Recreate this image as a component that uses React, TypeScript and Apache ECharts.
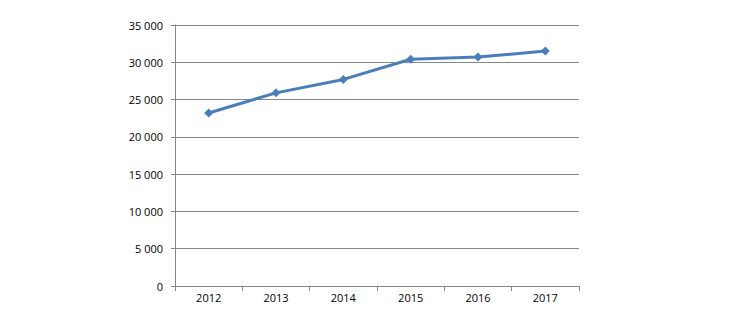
import React, { useEffect, useRef } from "react";
import * as echarts from "echarts";

const categories = ["2012", "2013", "2014", "2015", "2016", "2017"];
const values = [23200, 25900, 27700, 30400, 30700, 31500];

const fmt = (v: number) => {
  const s = String(Math.round(v));
  return s.replace(/\B(?=(\d{3})+(?!\d))/g, " ");
};

export default function App() {
  const ref = useRef<HTMLDivElement>(null);
  useEffect(() => {
    document.body.style.margin = "0";
    const chart = echarts.init(ref.current!, null, { renderer: "svg" });
    const font = "'Open Sans', 'DejaVu Sans', sans-serif";
    chart.setOption({
      animation: false,
      backgroundColor: "#ffffff",
      grid: { left: 175, right: 155, top: 25, bottom: 43, containLabel: false },
      xAxis: {
        type: "category",
        data: categories,
        boundaryGap: true,
        axisLine: { show: true, lineStyle: { color: "#868686", width: 1 } },
        axisTick: { show: true, length: 5, alignWithLabel: false, lineStyle: { color: "#868686" } },
        axisLabel: { color: "#000", fontSize: 11, fontFamily: font, margin: 6 },
        splitLine: { show: false },
      },
      yAxis: {
        type: "value",
        min: 0,
        max: 35000,
        interval: 5000,
        axisLine: { show: true, lineStyle: { color: "#868686", width: 1 } },
        axisTick: { show: true, length: 4, inside: false, lineStyle: { color: "#868686" } },
        axisLabel: { color: "#000", fontSize: 11, fontFamily: font, margin: 12, formatter: (v: number) => fmt(v) },
        splitLine: { show: true, lineStyle: { color: "#868686", width: 1 } },
      },
      series: [
        {
          type: "line",
          data: values,
          symbol: "diamond",
          symbolSize: 9,
          lineStyle: { color: "#4a7ebb", width: 3 },
          itemStyle: { color: "#4a7ebb" },
        },
      ],
    });
    return () => chart.dispose();
  }, []);
  return <div ref={ref} style={{ width: 734, height: 329 }} />;
}
